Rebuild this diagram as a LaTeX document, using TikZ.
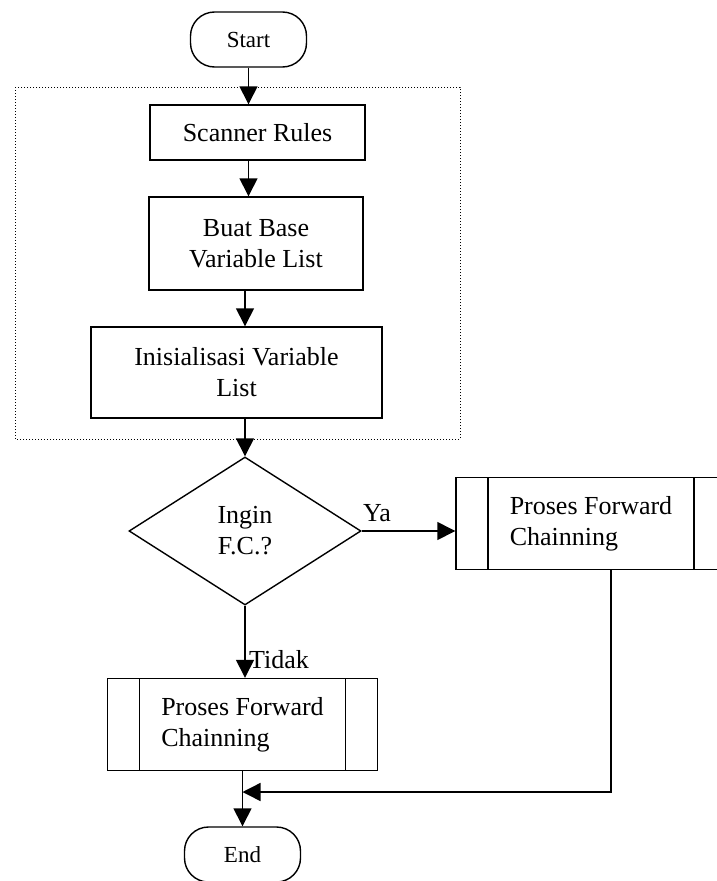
\documentclass[tikz,border=0pt]{standalone}
\usepackage{fontspec}
\setmainfont{Liberation Serif}
\usepackage{tikz}
\usetikzlibrary{positioning, shapes, arrows.meta}

\begin{document}
\begin{tikzpicture}[x=1pt, y=-1pt, line width=1.4pt,
    txt/.style={font=\fontsize{26}{31}\selectfont},
    terminal/.style={draw, rounded corners=24pt, minimum width=116pt, minimum height=55pt, font=\fontsize{23}{27}\selectfont},
    stepbox/.style={draw, txt, align=center, inner sep=0pt},
    decision/.style={draw, diamond, txt, align=center, inner sep=0pt, minimum width=232pt, minimum height=148pt},
    procbox/.style={draw, txt, align=left, inner sep=0pt, minimum width=270pt, minimum height=92pt,
        path picture={
            \draw ([xshift=32pt]path picture bounding box.north west) -- ([xshift=32pt]path picture bounding box.south west);
            \draw ([xshift=-32pt]path picture bounding box.north east) -- ([xshift=-32pt]path picture bounding box.south east);
        }},
    flow/.style={-{Triangle[length=18pt, width=18pt]}}]
    \useasboundingbox (0,0) rectangle (717,881);

    % Start and the setup steps
    \node[terminal] (start) at (248.5, 39.5) {Start};
    \node[stepbox, minimum width=215pt, minimum height=55pt] (scan) at (257.5, 132.5) {Scanner Rules};
    \node[stepbox, minimum width=214pt, minimum height=93pt] (base) at (256, 243.5) {Buat Base \\ Variable List};
    \node[stepbox, minimum width=291pt, minimum height=91pt] (init) at (236.5, 372.5) {Inisialisasi Variable \\ List};

    % Dotted frame round the setup steps
    \draw[line width=1pt, dotted] (15, 87) rectangle (460, 439);

    % Decision and the two process boxes
    \node[decision] (ask) at (245, 531) {Ingin \\ F.C.?};
    \node[procbox] (procA) at (591, 523.5) {Proses Forward \\ Chainning};
    \node[procbox] (procB) at (242.5, 724.5) {Proses Forward \\ Chainning};
    \node[terminal] (end) at (242.5, 854.5) {End};
    \coordinate (join) at (611, 792);

    % Connectors
    \draw[flow] (start.south) -- (start.south |- scan.north);
    \draw[flow] (start.south |- scan.south) -- (start.south |- base.north);
    \draw[flow] (ask.north |- base.south) -- (ask.north |- init.north);
    \draw[flow] (ask.north |- init.south) -- (ask.north);
    \draw[flow] (ask.east) -- (ask.east -| procA.west);
    \draw[flow] (ask.south) -- (ask.south |- procB.north);
    \draw[flow] (procB.south) -- (end.north);
    \draw[flow] (join |- procA.south) -- (join) -- (join -| procB.south);

    % Branch labels
    \node[txt] (ya) at (377, 513) {Ya};
    \node[txt] (tidak) at (279, 660) {Tidak};
\end{tikzpicture}
\end{document}
